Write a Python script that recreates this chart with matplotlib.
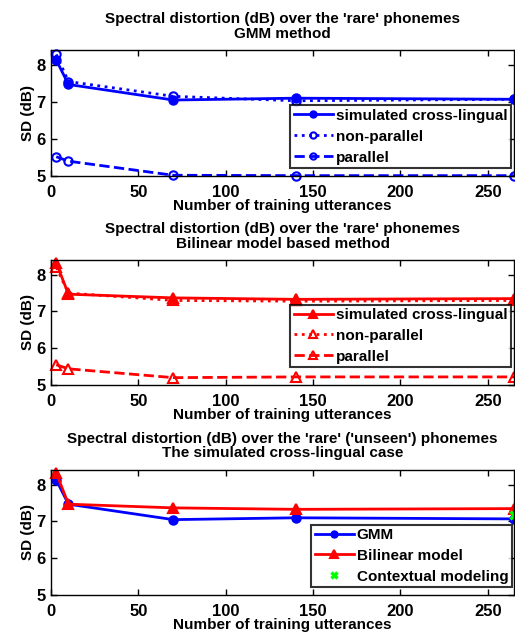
import matplotlib
matplotlib.use("Agg")
import matplotlib.pyplot as plt

plt.rcParams['font.family'] = ['Liberation Sans', 'DejaVu Sans']
plt.rcParams['font.weight'] = 'bold'

x = [3, 10, 70, 140, 265]

gmm_sim = [8.13, 7.47, 7.05, 7.10, 7.07]
gmm_nonpar = [8.28, 7.55, 7.15, 7.03, 7.07]
gmm_par = [5.52, 5.40, 5.02, 5.01, 5.01]

bil_sim = [8.32, 7.47, 7.37, 7.33, 7.35]
bil_nonpar = [8.20, 7.50, 7.30, 7.28, 7.30]
bil_par = [5.55, 5.44, 5.20, 5.22, 5.22]

ctx_x = [265]
ctx_y = [7.18]

titles = [
    "Spectral distortion (dB) over the 'rare' phonemes\nGMM method",
    "Spectral distortion (dB) over the 'rare' phonemes\nBilinear model based method",
    "Spectral distortion (dB) over the 'rare' ('unseen') phonemes\nThe simulated cross-lingual case",
]
xticks = [0, 50, 100, 150, 200, 250]
yticks = [5, 6, 7, 8]

W, H = 515, 633
fig = plt.figure(figsize=(W / 100, H / 100), dpi=100)

def make_ax(top, bottom):
    left, right = 51, 514
    return fig.add_axes([left / W, 1 - bottom / H, (right - left) / W, (bottom - top) / H])

axes = [make_ax(50, 176), make_ax(260, 385), make_ax(470, 595)]

blue = (0, 0, 1)
red = (1, 0, 0)
green = (0, 1, 0)
lw = 2.0

ax = axes[0]
ax.plot(x, gmm_sim, '-', color=blue, lw=lw, marker='o', ms=6, mfc=blue, mew=1.5, label='simulated cross-lingual', clip_on=False)
ax.plot(x, gmm_nonpar, ':', color=blue, lw=lw, marker='o', ms=6, mfc='none', mew=1.5, label='non-parallel', clip_on=False)
ax.plot(x, gmm_par, '--', color=blue, lw=lw, marker='o', ms=6, mfc='none', mew=1.5, label='parallel', clip_on=False)

ax = axes[1]
ax.plot(x, bil_sim, '-', color=red, lw=lw, marker='^', ms=7, mfc=red, mew=1.5, label='simulated cross-lingual', clip_on=False)
ax.plot(x, bil_nonpar, ':', color=red, lw=lw, marker='^', ms=7, mfc='none', mew=1.5, label='non-parallel', clip_on=False)
ax.plot(x, bil_par, '--', color=red, lw=lw, marker='^', ms=7, mfc='none', mew=1.5, label='parallel', clip_on=False)

ax = axes[2]
ax.plot(x, gmm_sim, '-', color=blue, lw=lw, marker='o', ms=6, mfc=blue, mew=1.5, label='GMM', clip_on=False)
ax.plot(x, bil_sim, '-', color=red, lw=lw, marker='^', ms=7, mfc=red, mew=1.5, label='Bilinear model', clip_on=False)
ax.plot(ctx_x, ctx_y, 'x', color=green, ms=6, mew=2.5, label='Contextual modeling', clip_on=False)

for ax, t in zip(axes, titles):
    ax.set_xlim(0, 265)
    ax.set_ylim(5, 8.4)
    ax.set_xticks(xticks)
    ax.set_yticks(yticks)
    ax.tick_params(direction='in', top=True, right=True, labelsize=12, length=4, width=1)
    ax.tick_params(axis='x', pad=6.5)
    ax.tick_params(axis='y', pad=4)
    for lab in ax.get_xticklabels() + ax.get_yticklabels():
        lab.set_fontweight('bold')
    for s in ax.spines.values():
        s.set_linewidth(1)
    ax.set_title(t, fontsize=11, fontweight='bold', pad=9, linespacing=1.05)
    ax.set_xlabel('Number of training utterances', fontsize=11, fontweight='bold', labelpad=-1)
    ax.set_ylabel('SD (dB)', fontsize=11, fontweight='bold', labelpad=1)

leg_kw = dict(fontsize=11, frameon=True, fancybox=False, edgecolor='black', handlelength=2.55,
              borderpad=0.22, labelspacing=0.45, handletextpad=0.2, borderaxespad=0.0,
              loc='lower right', markerscale=0.75)
anchors = [(0.993, 0.064), (0.993, 0.144), (0.995, 0.064)]
for ax, anc in zip(axes, anchors):
    leg = ax.legend(bbox_to_anchor=anc, **leg_kw)
    leg.get_frame().set_linewidth(1.5)
    for txt in leg.get_texts():
        txt.set_fontweight('bold')

fig.savefig('out.png', dpi=100)
